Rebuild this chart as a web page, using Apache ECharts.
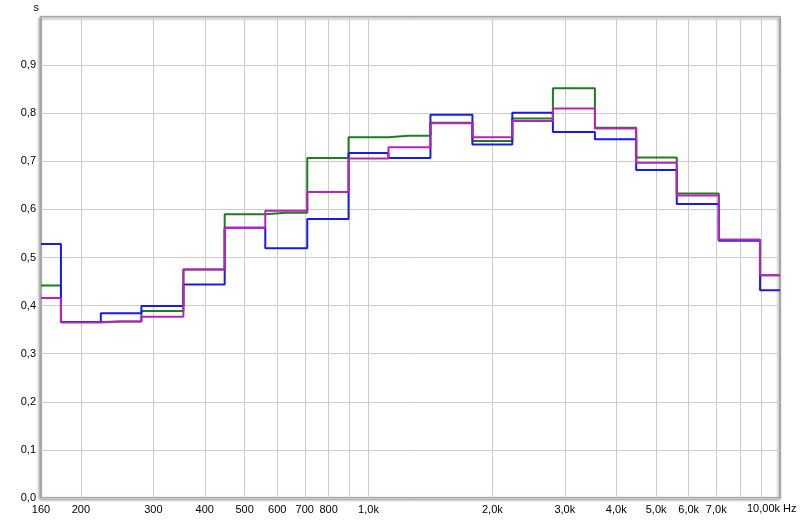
<!DOCTYPE html>
<html>
<head>
<meta charset="utf-8">
<script src="https://cdn.jsdelivr.net/npm/echarts@6/dist/echarts.min.js"></script>
<style>html,body{margin:0;padding:0;background:#fff}#c{width:800px;height:522px}</style>
</head>
<body>
<div id="c"></div>
<script>
// 1/3-octave band centre frequencies (Hz)
var bands = [160, 200, 250, 315, 400, 500, 630, 800, 1000, 1250, 1600, 2000, 2500, 3150, 4000, 5000, 6300, 8000, 10000];
// reverberation time (s) per band
var greenValues   = [0.442, 0.366, 0.367, 0.389, 0.475, 0.590, 0.593, 0.707, 0.750, 0.753, 0.780, 0.742, 0.789, 0.852, 0.770, 0.708, 0.633, 0.537, 0.463];
var blueValues    = [0.528, 0.366, 0.384, 0.399, 0.444, 0.562, 0.519, 0.580, 0.717, 0.707, 0.797, 0.735, 0.801, 0.761, 0.746, 0.682, 0.611, 0.535, 0.432];
var magentaValues = [0.416, 0.365, 0.367, 0.377, 0.475, 0.562, 0.597, 0.636, 0.706, 0.729, 0.779, 0.750, 0.784, 0.810, 0.768, 0.697, 0.629, 0.537, 0.463];
// x grid lines and labels
var xGridValues = [200, 300, 400, 500, 600, 700, 800, 900, 1000, 2000, 3000, 4000, 5000, 6000, 7000, 8000, 9000];
var xLabelValues = [160, 200, 300, 400, 500, 600, 700, 800, 1000, 2000, 3000, 4000, 5000, 6000, 7000];
var xLabelTexts  = ['160', '200', '300', '400', '500', '600', '700', '800', '1,0k', '2,0k', '3,0k', '4,0k', '5,0k', '6,0k', '7,0k'];
var xEndLabel = '10,00k Hz';
var yUnit = 's';

function pairs(vals) { return bands.map(function (f, i) { return [f, vals[i]]; }); }
var font = 'Liberation Sans, Arial, sans-serif';
var chart = echarts.init(document.getElementById('c'), null, {renderer: 'canvas'});
function line(name, vals, color) {
  return {
    name: name, type: 'line', step: 'middle', data: pairs(vals), showSymbol: false,
    lineStyle: {color: color, width: 2}, itemStyle: {color: color}, animation: false, silent: true
  };
}
chart.setOption({
  animation: false,
  grid: {left: 41, right: 20, top: 17, bottom: 24, show: true, borderColor: '#a6a6a6', borderWidth: 2,
         backgroundColor: '#fff', shadowColor: 'rgba(0,0,0,0.35)', shadowBlur: 3, shadowOffsetX: -1, shadowOffsetY: 1},
  xAxis: {
    type: 'log', logBase: 10, min: 160, max: 10000,
    axisLine: {show: false},
    axisTick: {show: false, customValues: xGridValues},
    splitLine: {show: true, lineStyle: {color: '#cccccc', width: 1}},
    axisLabel: {
      customValues: xLabelValues, color: '#000', fontFamily: font, fontSize: 11, margin: 6,
      formatter: function (v) { var i = xLabelValues.indexOf(Math.round(v)); return i >= 0 ? xLabelTexts[i] : ''; }
    },
    name: xEndLabel, nameLocation: 'end', nameGap: -33,
    nameTextStyle: {color: '#000', fontFamily: font, fontSize: 11, verticalAlign: 'top', align: 'left', padding: [5, 0, 0, 0]}
  },
  yAxis: {
    type: 'value', min: 0, max: 1, interval: 0.1,
    axisLine: {show: false}, axisTick: {show: false},
    splitLine: {show: true, lineStyle: {color: '#cccccc', width: 1}},
    axisLabel: {color: '#000', fontFamily: font, fontSize: 11, margin: 5, showMaxLabel: false,
      formatter: function (v) { return v.toFixed(1).replace('.', ','); }},
    name: yUnit, nameLocation: 'end', nameGap: 4,
    nameTextStyle: {color: '#000', fontFamily: font, fontSize: 11, align: 'right', padding: [0, 2, 0, 0]}
  },
  series: [
    line('green', greenValues, '#1e7d1e'),
    line('blue', blueValues, '#1a1aee'),
    line('magenta', magentaValues, '#bb22bb')
  ]
});
</script>
</body>
</html>
